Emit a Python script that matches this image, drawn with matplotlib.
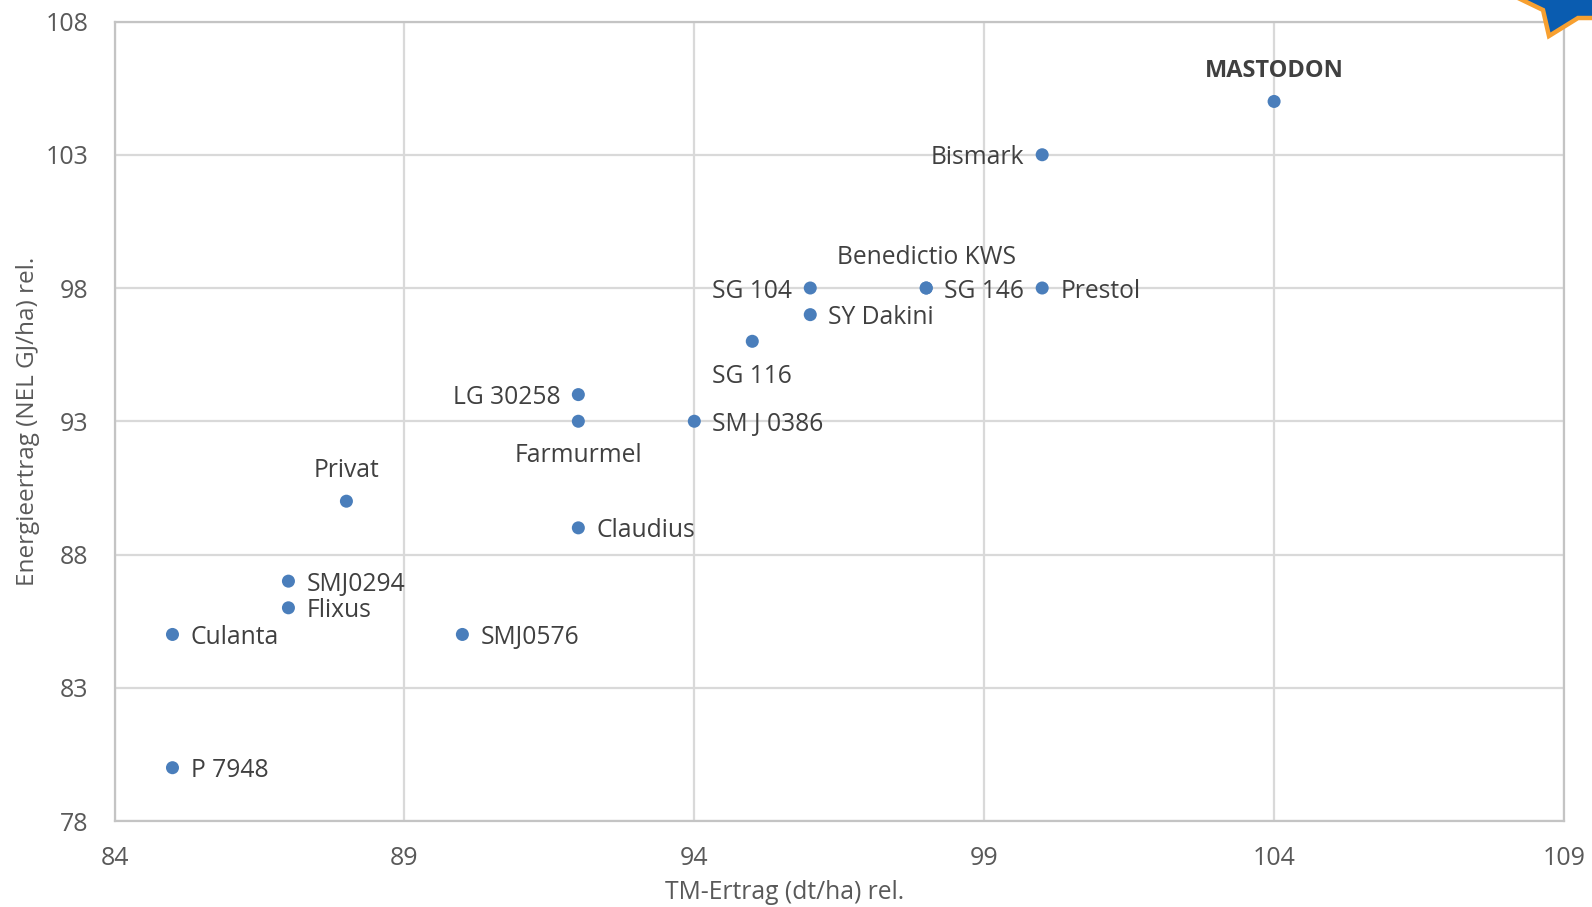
import matplotlib
matplotlib.use("Agg")
import matplotlib.pyplot as plt
from matplotlib.patches import Polygon
from matplotlib.transforms import Affine2D

names = ["MASTODON","Bismark","Benedictio KWS","SG 104","SG 146","Prestol","SY Dakini","SG 116","LG 30258","Farmurmel","SM J 0386","Privat","Claudius","SMJ0294","Flixus","Culanta","SMJ0576","P 7948"]
tm = [104,100,98,96,98,100,96,95,92,92,94,88,92,87,87,85,90,85]
nel = [105,103,98,98,98,98,97,96,94,93,93,90,89,87,86,85,85,80]
pos = ["t","l","t","l","r","r","r","b","l","b","r","t","r","r","r","r","r","r"]
xticks = [84,89,94,99,104,109]
yticks = [78,83,88,93,98,103,108]

plt.rcParams['font.family'] = ['Open Sans','DejaVu Sans']
W,H=1592,907
fig = plt.figure(figsize=(W/100,H/100),dpi=100)
L,R,T,B = 114.5,1564,21.5,821
ax = fig.add_axes([L/W,1-B/H,(R-L)/W,(B-T)/H])
ax.set_xlim(84,109); ax.set_ylim(78,108)
ax.set_xticks(xticks); ax.set_yticks(yticks)
ax.grid(True,color='#d9d9d9',lw=1.6)
ax.set_axisbelow(True)
for s in ax.spines.values():
    s.set_color('#c4c4c4'); s.set_linewidth(1.6)
ax.tick_params(length=0,labelsize=18,labelcolor='#595959')
ax.tick_params(axis='x',pad=18)
ax.tick_params(axis='y',pad=19)
ax.scatter(tm,nel,s=88,color='#4a7ebb',zorder=3,edgecolors='none',clip_on=False)
off={"t":(0,22,'center','center'),"b":(0,-25,'center','center'),"l":(-13,-2.2,'right','center'),"r":(13,-2.2,'left','center')}
for n,x,y,p in zip(names,tm,nel,pos):
    dx,dy,ha,va=off[p]
    fw = 'bold' if n=="MASTODON" else 'normal'
    fs = 17 if n=="MASTODON" else 17.7
    ax.annotate(n,(x,y),xytext=(dx,dy),textcoords='offset points',ha=ha,va=va,fontsize=fs,color='#404040',fontweight=fw)
ax.set_xlabel("TM-Ertrag (dt/ha) rel.",fontsize=17.7,color='#595959',va='center')
ax.set_ylabel("Energieertrag (NEL GJ/ha) rel.",fontsize=17.5,color='#595959',va='center')
ax.xaxis.set_label_coords(0.4625,-0.09)
ax.yaxis.set_label_coords(-0.060,0.5)
star = Polygon([[1516,-3],[1543,10],[1549,36],[1578,18],[1595,18],[1595,-3]],closed=True,facecolor='#0a5cb0',edgecolor='#f7a030',lw=3.2)
fig.add_artist(star)
star.set_transform(Affine2D().scale(1,-1).translate(0,H))
fig.savefig("out.png",dpi=100)
